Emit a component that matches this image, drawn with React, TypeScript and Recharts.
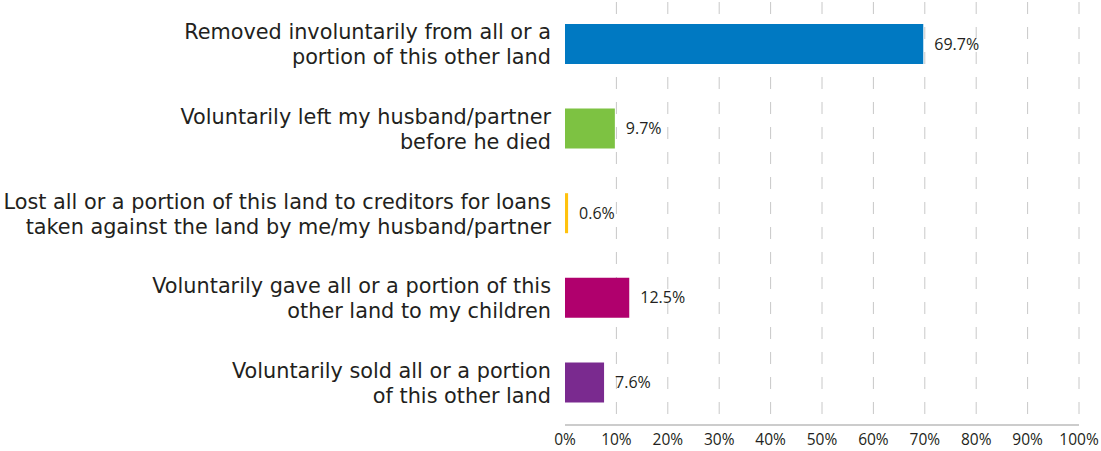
import React from 'react';
import { BarChart, Bar, XAxis, YAxis, Cell, LabelList, CartesianGrid } from 'recharts';

const categories = [
  'Removed involuntarily from all or a|portion of this other land',
  'Voluntarily left my husband/partner|before he died',
  'Lost all or a portion of this land to creditors for loans|taken against the land by me/my husband/partner',
  'Voluntarily gave all or a portion of this|other land to my children',
  'Voluntarily sold all or a portion|of this other land',
];
const shares = [69.7, 9.7, 0.6, 12.5, 7.6];
const barColors = ['#0079c2', '#7dc242', '#ffc20e', '#b0006d', '#7a2a8f'];
const xTicks = [0, 10, 20, 30, 40, 50, 60, 70, 80, 90, 100];
const gridValues = [10, 20, 30, 40, 50, 60, 70, 80, 90, 100];

const data = categories.map((name, i) => ({ name, value: shares[i] }));

const LABEL_FONT = '"DejaVu Sans", sans-serif';
const NUM_FONT = '"Open Sans", sans-serif';

const CategoryTick = (props: any) => {
  const { x, y, payload } = props;
  const lines = String(payload.value).split('|');
  return (
    <text x={x} y={y} textAnchor="end" fill="#231f20" fontSize={20.8} fontFamily={LABEL_FONT}>
      {lines.map((line, i) => (
        <tspan key={i} x={x} dy={i === 0 ? -12.5 + 7.5 : 25}>
          {line}
        </tspan>
      ))}
    </text>
  );
};

const App: React.FC = () => {
  return (
    <div style={{ position: 'absolute', left: 0, top: 0, background: '#fff' }}>
      <BarChart
        width={1101}
        height={451}
        data={data}
        layout="vertical"
        margin={{ top: 2, right: 22, bottom: 0, left: 0 }}
        barSize={40}
      >
        <CartesianGrid
          horizontal={false}
          verticalValues={gridValues}
          stroke="#c8c8c8"
          strokeDasharray="12 13"
        />
        <XAxis
          type="number"
          domain={[0, 100]}
          ticks={xTicks}
          tickFormatter={(v) => `${v}%`}
          axisLine={{ stroke: '#bbbbbb', strokeWidth: 1.5 }}
          tickLine={false}
          tickMargin={3}
          height={26}
          tick={{ fill: '#231f20', fontSize: 15.5, fontFamily: NUM_FONT }}
        />
        <YAxis
          type="category"
          dataKey="name"
          width={565}
          axisLine={false}
          tickLine={false}
          tickSize={0}
          tickMargin={14}
          tick={<CategoryTick />}
        />
        <Bar dataKey="value" isAnimationActive={false}>
          {data.map((d, i) => (
            <Cell key={d.name} fill={barColors[i]} />
          ))}
          <LabelList
            dataKey="value"
            position="right"
            offset={11}
            formatter={(v: any) => `${Number(v).toFixed(1)}%`}
            style={{ fill: '#231f20', fontSize: 16, fontFamily: NUM_FONT }}
          />
        </Bar>
      </BarChart>
    </div>
  );
};

export default App;
